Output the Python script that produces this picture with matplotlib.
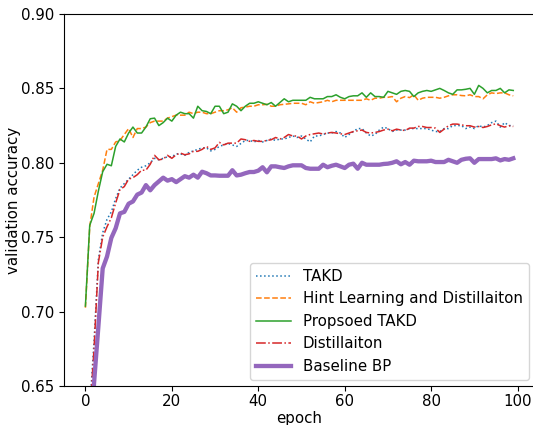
import numpy as np
import matplotlib
matplotlib.use('Agg')
import matplotlib.pyplot as plt

epochs = np.arange(100)

takd = [0.560, 0.635, 0.680, 0.735, 0.753, 0.762, 0.767, 0.776, 0.783, 0.786,
        0.789, 0.792, 0.795, 0.797, 0.798, 0.800, 0.803, 0.802, 0.803, 0.804,
        0.804, 0.806, 0.806, 0.805, 0.807, 0.808, 0.809, 0.810, 0.810, 0.808,
        0.809, 0.811, 0.812, 0.813, 0.812, 0.811, 0.813, 0.815, 0.815, 0.814,
        0.815, 0.814, 0.815, 0.816, 0.815, 0.816, 0.816, 0.817, 0.818, 0.817,
        0.818, 0.816, 0.814, 0.818, 0.818, 0.819, 0.820, 0.820, 0.821, 0.820,
        0.817, 0.819, 0.821, 0.823, 0.823, 0.820, 0.818, 0.819, 0.822, 0.824,
        0.823, 0.821, 0.822, 0.822, 0.822, 0.823, 0.823, 0.823, 0.823, 0.823,
        0.822, 0.821, 0.821, 0.823, 0.823, 0.825, 0.825, 0.825, 0.823, 0.824,
        0.823, 0.825, 0.824, 0.825, 0.827, 0.828, 0.824, 0.827, 0.825, 0.825]

hint = [0.7026, 0.757, 0.777, 0.786, 0.795, 0.809, 0.809, 0.814, 0.815, 0.819,
        0.823, 0.817, 0.823, 0.823, 0.824, 0.827, 0.828, 0.828, 0.828, 0.830,
        0.831, 0.832, 0.832, 0.832, 0.834, 0.833, 0.834, 0.834, 0.833, 0.833,
        0.834, 0.835, 0.835, 0.8356, 0.837, 0.834, 0.837, 0.8374, 0.838, 0.838,
        0.839, 0.839, 0.8393, 0.838, 0.838, 0.839, 0.8393, 0.8396, 0.840, 0.840,
        0.840, 0.839, 0.841, 0.840, 0.8405, 0.841, 0.842, 0.841, 0.842, 0.842,
        0.842, 0.842, 0.842, 0.842, 0.842, 0.843, 0.842, 0.8434, 0.8434, 0.844,
        0.844, 0.8445, 0.841, 0.8434, 0.8445, 0.8438, 0.8457, 0.842, 0.8434, 0.844,
        0.844, 0.844, 0.8434, 0.844, 0.845, 0.8457, 0.8457, 0.8452, 0.845, 0.8457,
        0.8445, 0.8445, 0.843, 0.8457, 0.847, 0.8465, 0.847, 0.847, 0.8457, 0.845]

proposed = [0.7037, 0.758, 0.766, 0.781, 0.794, 0.799, 0.798, 0.811, 0.816, 0.814,
            0.820, 0.824, 0.820, 0.820, 0.824, 0.8296, 0.830, 0.825, 0.827, 0.830,
            0.828, 0.832, 0.834, 0.833, 0.833, 0.830, 0.838, 0.835, 0.8345, 0.833,
            0.838, 0.838, 0.833, 0.834, 0.8396, 0.838, 0.835, 0.838, 0.840, 0.840,
            0.841, 0.840, 0.839, 0.8405, 0.838, 0.8405, 0.843, 0.841, 0.842, 0.842,
            0.842, 0.842, 0.844, 0.843, 0.843, 0.843, 0.8445, 0.8445, 0.8457, 0.844,
            0.843, 0.8445, 0.845, 0.845, 0.847, 0.844, 0.847, 0.8445, 0.8445, 0.844,
            0.848, 0.847, 0.846, 0.848, 0.8486, 0.848, 0.8445, 0.847, 0.848, 0.8486,
            0.848, 0.849, 0.850, 0.8486, 0.847, 0.846, 0.849, 0.849, 0.8494, 0.850,
            0.846, 0.852, 0.850, 0.847, 0.8486, 0.8486, 0.850, 0.847, 0.849, 0.8486]

distill = [0.580, 0.630, 0.675, 0.733, 0.750, 0.757, 0.763, 0.773, 0.782, 0.784,
           0.789, 0.790, 0.792, 0.795, 0.795, 0.799, 0.805, 0.802, 0.8025, 0.805,
           0.803, 0.8054, 0.8065, 0.8054, 0.806, 0.8077, 0.8077, 0.809, 0.811, 0.809,
           0.810, 0.8137, 0.812, 0.8132, 0.8132, 0.8132, 0.816, 0.8155, 0.8144, 0.815,
           0.8144, 0.8144, 0.815, 0.8155, 0.817, 0.816, 0.817, 0.819, 0.818, 0.818,
           0.816, 0.818, 0.819, 0.8195, 0.820, 0.8193, 0.820, 0.8204, 0.820, 0.8195,
           0.819, 0.820, 0.821, 0.8215, 0.822, 0.8204, 0.820, 0.8204, 0.821, 0.822,
           0.8226, 0.8215, 0.8226, 0.822, 0.8217, 0.8233, 0.8233, 0.8244, 0.8244, 0.8237,
           0.8237, 0.8233, 0.8204, 0.8226, 0.8249, 0.826, 0.826, 0.8255, 0.8249, 0.8249,
           0.824, 0.8244, 0.8237, 0.8244, 0.8255, 0.8262, 0.8249, 0.824, 0.8249, 0.8244]

baseline = [0.550, 0.600, 0.652, 0.690, 0.729, 0.737, 0.7495, 0.756, 0.766, 0.767,
            0.7725, 0.774, 0.7786, 0.780, 0.785, 0.7815, 0.785, 0.7875, 0.790, 0.788,
            0.789, 0.787, 0.789, 0.791, 0.790, 0.792, 0.790, 0.794, 0.793, 0.7915,
            0.7915, 0.7913, 0.7913, 0.7913, 0.795, 0.7915, 0.792, 0.793, 0.7938, 0.7938,
            0.7947, 0.797, 0.7936, 0.7976, 0.7976, 0.797, 0.7965, 0.7976, 0.7983, 0.7983,
            0.7983, 0.7965, 0.796, 0.796, 0.796, 0.7987, 0.797, 0.798, 0.7987, 0.7976,
            0.7965, 0.7987, 0.7994, 0.796, 0.800, 0.7987, 0.7987, 0.7987, 0.7987, 0.7992,
            0.7994, 0.800, 0.801, 0.799, 0.8005, 0.7987, 0.8014, 0.801, 0.801, 0.801,
            0.8014, 0.8005, 0.8005, 0.8005, 0.802, 0.801, 0.800, 0.802, 0.8027, 0.803,
            0.800, 0.8025, 0.8025, 0.8025, 0.8025, 0.803, 0.8016, 0.8025, 0.802, 0.803]

plt.rcParams['font.size'] = 10.8

fig = plt.figure(figsize=(5.33, 4.25), dpi=100)
ax = fig.add_axes([0.1201, 0.0918, 0.883, 0.8753])

ax.plot(epochs, takd, ':', lw=1.1, label='TAKD')
ax.plot(epochs, hint, '--', lw=1.1, label='Hint Learning and Distillaiton')
ax.plot(epochs, proposed, '-', lw=1.1, label='Propsoed TAKD')
ax.plot(epochs, distill, '-.', lw=1.1, label='Distillaiton')
ax.plot(epochs, baseline, '-', lw=3.1, label='Baseline BP')

ax.set_ylim(0.65, 0.90)
ax.set_xticks([0, 20, 40, 60, 80, 100])
ax.set_yticks([0.65, 0.70, 0.75, 0.80, 0.85, 0.90])
ax.tick_params(axis='x', pad=2.5)
ax.set_xlabel('epoch', labelpad=1)
ax.set_ylabel('validation accuracy', labelpad=0)
ax.legend(loc='lower right', handlelength=2.3, borderaxespad=0.4)

fig.savefig('out.png', dpi=100)
